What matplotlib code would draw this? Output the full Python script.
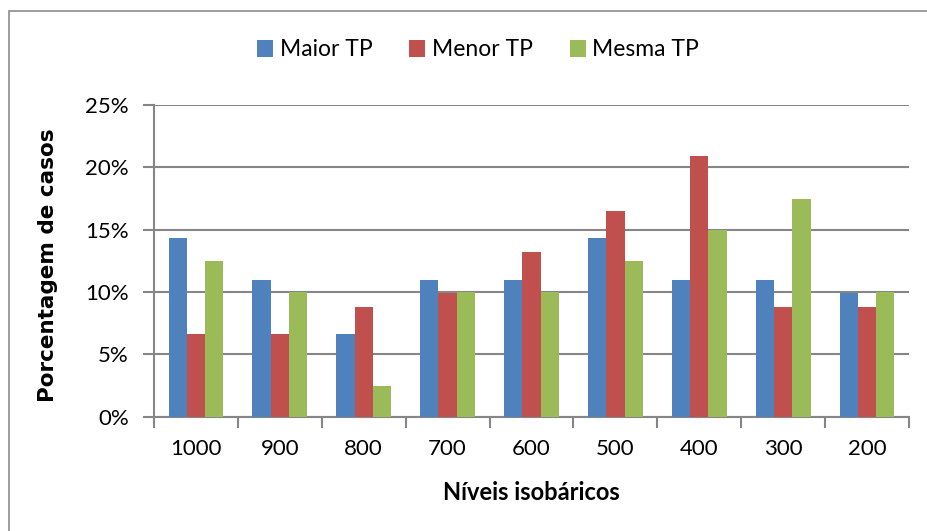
import matplotlib
matplotlib.use('Agg')
import matplotlib.pyplot as plt
import numpy as np
from matplotlib.patches import Rectangle

# Dados do gráfico (porcentagem de casos por nível)
niveis = ['1000', '900', '800', '700', '600', '500', '400', '300', '200']
maior_tp = [14.3, 11.0, 6.6, 11.0, 11.0, 14.3, 11.0, 11.0, 9.9]
menor_tp = [6.6, 6.6, 8.8, 9.9, 13.2, 16.5, 20.9, 8.8, 8.8]
mesma_tp = [12.5, 10.0, 2.5, 10.0, 10.0, 12.5, 15.0, 17.5, 10.0]

series = [('Maior TP', maior_tp, '#4F81BD'),
          ('Menor TP', menor_tp, '#C0504D'),
          ('Mesma TP', mesma_tp, '#9BBB59')]

plt.rcParams['font.family'] = ['Lato', 'DejaVu Sans']
cinza = '#868686'

fig = plt.figure(figsize=(9.28, 5.31), dpi=100)
ax = fig.add_axes([154 / 928, 1 - 416.7 / 531, (909 - 154) / 928, (416.7 - 105) / 531])

# borda externa do gráfico
fig.patches.append(Rectangle((9 / 928, -0.05), 1.1, 1 - 11 / 531 + 0.05,
                             transform=fig.transFigure, fill=False,
                             edgecolor='#8c8c8c', linewidth=1.2, clip_on=False))

x = np.arange(len(niveis))
larg = 0.218
for i, (nome, vals, cor) in enumerate(series):
    ax.bar(x + (i - 1) * larg, vals, width=larg, color=cor, label=nome, zorder=3)

ax.set_ylim(0, 25)
ax.set_xlim(-0.5, len(niveis) - 0.5)
ax.set_yticks(np.arange(0, 26, 5))
ax.set_yticklabels([f'{v}%' for v in range(0, 26, 5)])
ax.yaxis.grid(True, color=cinza, linewidth=1.5, zorder=0)

ax.set_xticks(np.arange(-0.5, len(niveis)), minor=False)
ax.set_xticklabels([])
ax.set_xticks(x, minor=True)
ax.set_xticklabels(niveis, minor=True)
ax.tick_params(axis='x', which='major', length=8, width=1.5, color=cinza, direction='out')
ax.tick_params(axis='x', which='minor', length=0, pad=16, labelsize=16)
ax.tick_params(axis='y', length=8, width=1.5, color=cinza, pad=10, labelsize=16)

for s in ['top', 'right']:
    ax.spines[s].set_visible(False)
for s in ['left', 'bottom']:
    ax.spines[s].set_color(cinza)
    ax.spines[s].set_linewidth(1.5)

fig.text(48 / 928, 1 - 265 / 531, 'Porcentagem de casos', rotation=90,
         ha='center', va='center', fontsize=15.5, fontweight='bold',
         family='DejaVu Sans')
fig.text(531 / 928, 1 - 493 / 531, 'Níveis isobáricos', ha='center', va='center',
         fontsize=17, fontweight='bold')

fig.legend(loc='center', bbox_to_anchor=(478 / 928, 1 - 50 / 531), ncol=3,
           frameon=False, fontsize=16.5, handlelength=0.7, handleheight=0.7,
           handletextpad=0.3, columnspacing=1.6)

fig.savefig('out.png', dpi=100)
